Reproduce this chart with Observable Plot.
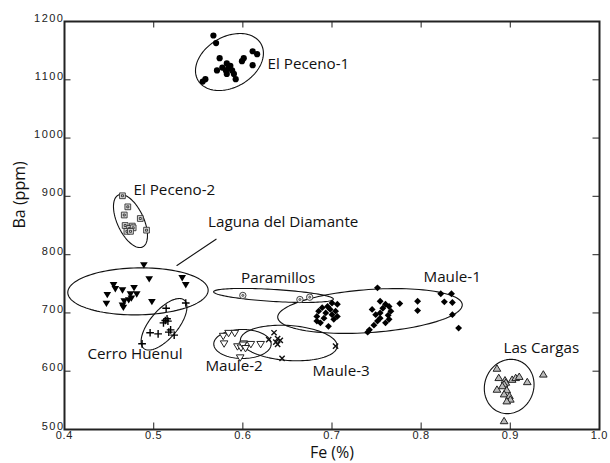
<!DOCTYPE html>
<html><head><meta charset="utf-8">
<script src="https://cdn.jsdelivr.net/npm/d3@7"></script>
<script src="https://cdn.jsdelivr.net/npm/@observablehq/plot@0.6"></script>
<style>body{margin:0;background:#fff}#chart{width:610px;height:463px}</style>
</head><body><div id="chart"></div>
<script>
// ---- data: [Fe (%), Ba (ppm)] ----
const elPeceno1 = [[0.567,1176],[0.570,1163],[0.574,1137],[0.611,1149],[0.616,1144],[0.601,1137],[0.599,1132],[0.611,1125],[0.582,1128],[0.586,1124],[0.577,1121],[0.571,1116],[0.581,1116],[0.588,1116],[0.590,1110],[0.582,1110],[0.592,1101],[0.558,1101],[0.555,1097],[0.584,1120]];
const elPeceno2 = [[0.465,901],[0.471,882],[0.467,868],[0.485,862],[0.468,850],[0.476,849],[0.473,845],[0.477,846],[0.470,840],[0.474,840],[0.492,842]];
const lagunaDiamante = [[0.489,783],[0.495,759],[0.532,761],[0.536,749],[0.455,749],[0.457,742],[0.465,740],[0.478,744],[0.448,732],[0.474,733],[0.481,733],[0.472,723],[0.467,721],[0.447,717],[0.465,714],[0.466,710],[0.498,720],[0.475,726]];
const cerroHuenul = [[0.514,708],[0.515,690],[0.513,687],[0.516,686],[0.511,683],[0.519,671],[0.517,667],[0.496,666],[0.505,664],[0.523,662],[0.536,717],[0.487,647]];
const paramillos = [[0.600,730],[0.664,723],[0.675,727]];
const maule1 = [[0.700,717],[0.706,715],[0.695,711],[0.689,709],[0.698,706],[0.685,703],[0.704,703],[0.693,700],[0.700,697],[0.683,694],[0.706,694],[0.691,691],[0.702,689],[0.683,686],[0.687,683],[0.696,677],
  [0.751,743],[0.754,720],[0.760,715],[0.764,711],[0.745,706],[0.757,708],[0.766,703],[0.754,700],[0.749,697],[0.763,696],[0.754,691],[0.764,689],[0.751,686],[0.760,683],[0.747,679],[0.742,671],[0.740,667],
  [0.776,716],[0.796,720],[0.796,704],[0.822,733],[0.834,733],[0.826,719],[0.835,718],[0.835,697],[0.842,674]];
const maule2 = [[0.578,661],[0.584,666],[0.591,666],[0.579,648],[0.594,643],[0.598,641],[0.601,648],[0.609,647],[0.620,647],[0.597,624],[0.600,646],[0.603,640]];
const maule3 = [[0.635,666],[0.639,656],[0.642,653],[0.637,650],[0.629,654],[0.639,646],[0.644,622],[0.704,643]];
const lasCargas = [[0.885,604],[0.887,588],[0.894,584],[0.895,580],[0.902,585],[0.906,588],[0.910,590],[0.919,581],[0.937,594],[0.893,577],[0.891,574],[0.885,568],[0.896,567],[0.893,560],[0.899,557],[0.900,551],[0.896,548],[0.893,514]];

const groupNames = ["El Peceno-1","El Peceno-2","Laguna del Diamante","Paramillos","Maule-1","Cerro Huenul","Maule-2","Maule-3","Las Cargas"];
// group label anchors [Fe, Ba]
const labelFe = [0.6277,0.4774,0.561,0.598,0.8026,0.4258,0.558,0.678,0.8923];
const labelBa = [1127,910,855,759,761,629,608,601,639];
// group ellipses: centre [Fe, Ba], semi-axes (px), rotation (deg)
const ellipseNames = ["El Peceno-1","El Peceno-2","Laguna del Diamante","Cerro Huenul","Paramillos","Maule-1","Maule-2","Maule-3","Las Cargas"];
const ellipseFe = [0.585,0.474,0.4824,0.5116,0.6344,0.7426,0.5996,0.6516,0.8987];
const ellipseBa = [1130.5,857.7,737,680.5,730,703.3,646.7,648.4,573.8];
const ellipseA = [36.4,28.6,70.2,31.5,60,92.5,28.7,48.5,27.5];
const ellipseB = [25.3,13.2,23.5,14,6,21.5,14.5,17.5,24.5];
const ellipseAngle = [-30,65,-1,-50,3.5,-4,0,4,-70];
// leader line for Laguna del Diamante [Fe, Ba]
const leaderFe = [0.570,0.5261];
const leaderBa = [826.5,781.4];

const xTicks = [0.4,0.5,0.6,0.7,0.8,0.9,1.0];
const yTicks = [500,600,700,800,900,1000,1100,1200];

// ---- layout ----
const W = 610, H = 463, mL = 64, mR = 11, mT = 21, mB = 34;
const xDomain = [0.4, 1.0], yDomain = [500, 1200];
const kx = (xDomain[1]-xDomain[0])/(W-mL-mR);
const ky = (yDomain[1]-yDomain[0])/(H-mT-mB);
const tickLen = 6.5;

const rows = a => a.map(([fe, ba]) => ({fe, ba}));

const ellipseRows = [];
ellipseNames.forEach((name, i) => {
  const th = ellipseAngle[i]*Math.PI/180;
  for (let k = 0; k <= 120; k++) {
    const t = k/120*2*Math.PI;
    const dx = ellipseA[i]*Math.cos(t)*Math.cos(th) - ellipseB[i]*Math.sin(t)*Math.sin(th);
    const dy = ellipseA[i]*Math.cos(t)*Math.sin(th) + ellipseB[i]*Math.sin(t)*Math.cos(th);
    ellipseRows.push({name, x: ellipseFe[i] + dx*kx, y: ellipseBa[i] - dy*ky});
  }
});
const labelRows = groupNames.map((t, i) => ({t, x: labelFe[i], y: labelBa[i]}));
const leaderRows = leaderFe.map((x, i) => ({x, y: leaderBa[i]}));

// custom symbols
const downTri = {draw(c, size){ const s = Math.sqrt(size)*0.6; c.moveTo(-s,-s*0.62); c.lineTo(s,-s*0.62); c.lineTo(0,s*1.05); c.closePath(); }};
const upTri = {draw(c, size){ const s = Math.sqrt(size)*0.6; c.moveTo(-s,s*0.62); c.lineTo(s,s*0.62); c.lineTo(0,-s*1.05); c.closePath(); }};
const circDot = {draw(c, size){ const r = Math.sqrt(size/Math.PI); c.moveTo(r,0); c.arc(0,0,r,0,2*Math.PI); c.moveTo(r*0.3,0); c.arc(0,0,r*0.3,0,2*Math.PI); }};
const sqDot = {draw(c, size){ const s = Math.sqrt(size)/2.1; c.rect(-s,-s,2*s,2*s); const q = s*0.35; c.rect(-q,-q,2*q,2*q); }};

const xInner = xTicks.slice(1,-1), yInner = yTicks.slice(1,-1);
const labelFont = "'Open Sans', sans-serif";

const chart = Plot.plot({
  width: W, height: H,
  marginLeft: mL, marginRight: mR, marginTop: mT, marginBottom: mB,
  x: {domain: xDomain},
  y: {domain: yDomain},
  style: {fontFamily: "'Liberation Sans', Arial, sans-serif", fontSize: "11px", background: "#fff", color: "#222"},
  marks: [
    Plot.line(ellipseRows, {x: "x", y: "y", z: "name", stroke: "#111", strokeWidth: 1.1}),
    Plot.line(leaderRows, {x: "x", y: "y", stroke: "#111", strokeWidth: 1.1}),
    Plot.dot(rows(elPeceno1), {x: "fe", y: "ba", r: 3.1, fill: "#000", stroke: "none"}),
    Plot.dot(rows(elPeceno2), {x: "fe", y: "ba", r: 3.4, symbol: sqDot, fill: "#ddd", stroke: "#333", strokeWidth: 0.9}),
    Plot.dot(rows(lagunaDiamante), {x: "fe", y: "ba", r: 3.6, symbol: downTri, fill: "#000", stroke: "none"}),
    Plot.dot(rows(cerroHuenul), {x: "fe", y: "ba", r: 2.6, symbol: "plus", fill: "none", stroke: "#000", strokeWidth: 1.4}),
    Plot.dot(rows(paramillos), {x: "fe", y: "ba", r: 3.2, symbol: circDot, fill: "#eee", stroke: "#333", strokeWidth: 0.9}),
    Plot.dot(rows(maule1), {x: "fe", y: "ba", r: 3.1, symbol: "diamond2", fill: "#000", stroke: "none"}),
    Plot.dot(rows(maule2), {x: "fe", y: "ba", r: 3.6, symbol: downTri, fill: "#fff", stroke: "#222", strokeWidth: 1}),
    Plot.dot(rows(maule3), {x: "fe", y: "ba", r: 2.5, symbol: "times", fill: "none", stroke: "#111", strokeWidth: 1.4}),
    Plot.dot(rows(lasCargas), {x: "fe", y: "ba", r: 3.6, symbol: upTri, fill: "#bbb", stroke: "#222", strokeWidth: 1}),
    Plot.text(labelRows, {x: "x", y: "y", text: "t", textAnchor: "start", fontFamily: labelFont, fontSize: 15.2, fill: "#111"}),
    Plot.ruleX(xInner, {y1: yDomain[0], y2: yDomain[0] + tickLen*ky, stroke: "#444", strokeWidth: 1.2}),
    Plot.ruleX(xInner, {y1: yDomain[1], y2: yDomain[1] - tickLen*ky, stroke: "#444", strokeWidth: 1.2}),
    Plot.ruleY(yInner, {x1: xDomain[0], x2: xDomain[0] + tickLen*kx, stroke: "#444", strokeWidth: 1.2}),
    Plot.ruleY(yInner, {x1: xDomain[1], x2: xDomain[1] - tickLen*kx, stroke: "#444", strokeWidth: 1.2}),
    Plot.frame({stroke: "#222", strokeWidth: 2}),
    Plot.axisX(xTicks, {tickSize: 0, tickPadding: 2, tickFormat: d => d.toFixed(1), label: null}),
    Plot.axisY(yTicks, {tickSize: 0, tickPadding: 0, dy: -3.5, tickFormat: d => String(d), label: null}),
    Plot.text(["Fe (%)"], {frameAnchor: "bottom", dy: 28, fontFamily: labelFont, fontSize: 16, fill: "#111"}),
    Plot.text(["Ba (ppm)"], {frameAnchor: "left", dx: -45, dy: 3, rotate: -90, fontFamily: labelFont, fontSize: 16, fill: "#111"})
  ]
});
d3.select(chart).selectAll('g[aria-label="y-axis tick label"] text').attr("letter-spacing", "1.5");
d3.select(chart).selectAll('g[aria-label="x-axis tick label"] text').attr("letter-spacing", "0.7");
document.getElementById("chart").appendChild(chart);
</script>
</body></html>
